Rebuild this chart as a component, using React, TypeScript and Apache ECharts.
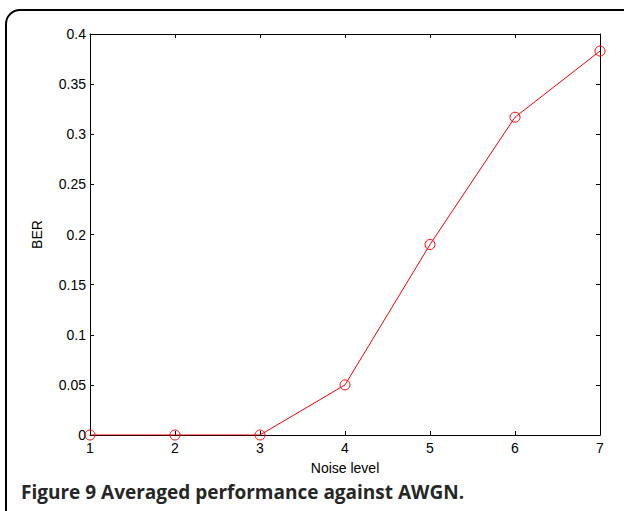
import React, { useEffect, useRef } from "react";
import * as echarts from "echarts";

const noiseLevels = [1, 2, 3, 4, 5, 6, 7];
const berValues = [0, 0, 0, 0.05, 0.19, 0.317, 0.383];
const xTicks = [1, 2, 3, 4, 5, 6, 7];
const yTickStep = 0.05;
const captionBold = "Figure 9";
const captionRest = " Averaged performance against AWGN.";

export default function App() {
  const ref = useRef<HTMLDivElement>(null);
  useEffect(() => {
    if (!ref.current) return;
    const chart = echarts.init(ref.current, null, { renderer: "svg" });
    const font = "'Liberation Sans', Arial, Helvetica, sans-serif";
    const axisCommon = {
      axisLine: { show: true, onZero: false, lineStyle: { color: "#000", width: 1 } },
      axisTick: { show: true, inside: true, length: 4, lineStyle: { color: "#000", width: 1 } },
      splitLine: { show: false },
    };
    chart.setOption({
      animation: false,
      backgroundColor: "#fff",
      grid: { left: 90, top: 34, width: 510, height: 401, containLabel: false },
      xAxis: [
        {
          type: "value",
          min: xTicks[0],
          max: xTicks[xTicks.length - 1],
          interval: 1,
          position: "bottom",
          name: "Noise level",
          nameLocation: "middle",
          nameGap: 26,
          nameTextStyle: { color: "#000", fontSize: 14, fontFamily: font },
          axisLabel: { color: "#000", fontSize: 14, fontFamily: font, margin: 6 },
          ...axisCommon,
        },
        {
          type: "value",
          min: xTicks[0],
          max: xTicks[xTicks.length - 1],
          interval: 1,
          position: "top",
          axisLabel: { show: false },
          ...axisCommon,
        },
      ],
      yAxis: [
        {
          type: "value",
          min: 0,
          max: 0.4,
          interval: yTickStep,
          position: "left",
          name: "BER",
          nameLocation: "middle",
          nameGap: 46,
          nameRotate: 90,
          nameTextStyle: { color: "#000", fontSize: 14, fontFamily: font },
          axisLabel: {
            color: "#000",
            fontSize: 14,
            fontFamily: font,
            margin: 4,
            formatter: (v: number) => String(parseFloat(v.toFixed(2))),
          },
          ...axisCommon,
        },
        {
          type: "value",
          min: 0,
          max: 0.4,
          interval: yTickStep,
          position: "right",
          axisLabel: { show: false },
          ...axisCommon,
        },
      ],
      series: [
        {
          type: "line",
          data: noiseLevels.map((x, i) => [x, berValues[i]]),
          symbol: "circle",
          symbolSize: 10,
          showSymbol: true,
          lineStyle: { color: "#ff0000", width: 1 },
          itemStyle: { color: "rgba(0,0,0,0)", borderColor: "#ff0000", borderWidth: 1 },
          emphasis: { disabled: true },
          z: 5,
        },
      ],
      graphic: [
        {
          type: "rect",
          shape: { x: 6, y: 10, width: 640, height: 520, r: [14, 14, 0, 0] },
          style: { fill: "none", stroke: "#000", lineWidth: 2 },
          silent: true,
        },
        {
          type: "text",
          x: 21,
          y: 492,
          style: {
            text: captionBold + captionRest,
            font: "bold 19px 'Open Sans', 'Noto Sans', sans-serif",
            fill: "#262626",
            textVerticalAlign: "middle",
          },
          silent: true,
        },
      ],
    });
    return () => chart.dispose();
  }, []);
  return (
    <div
      ref={ref}
      style={{ position: "absolute", left: 0, top: 0, width: 624, height: 511 }}
    />
  );
}
